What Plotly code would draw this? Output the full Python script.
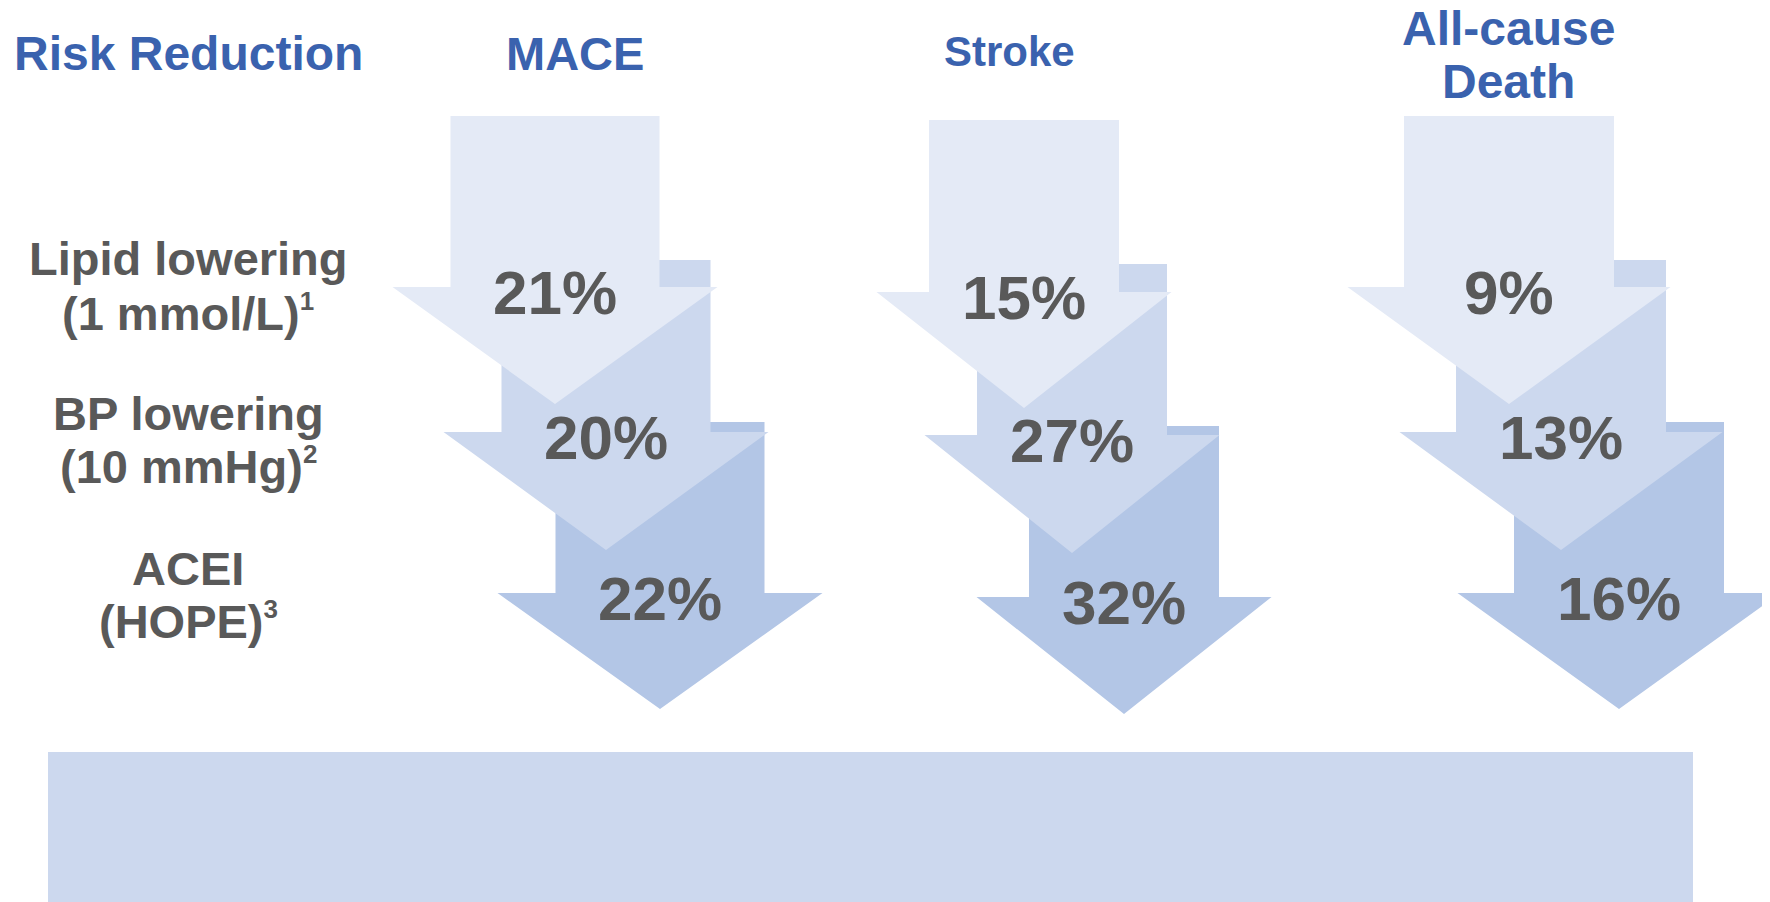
import plotly.graph_objects as go

# --- data -------------------------------------------------------------
OUTCOMES = ["MACE", "Stroke", "All-cause<br>Death"]
INTERVENTIONS = ["Lipid lowering", "BP lowering", "ACEI"]
INTERVENTION_DETAIL = ["(1 mmol/L)", "(10 mmHg)", "(HOPE)"]
REFS = ["1", "2", "3"]
MACE_PCT = [21, 20, 22]
STROKE_PCT = [15, 27, 32]
DEATH_PCT = [9, 13, 16]
VALUES = [MACE_PCT, STROKE_PCT, DEATH_PCT]

# --- layout / geometry (page pixels, y grows downward) ----------------
W, H = 1770, 902
PAD = 8  # body margin of the html page; axes are offset so page px == data units
BLUE = "#3A62AE"
GREY = "#595959"
ARROW_COLORS = ["#E4EAF6", "#CCD8EE", "#B3C6E6"]
FONT = "Liberation Sans, Arial, sans-serif"

COL_X = [555, 1024, 1509]             # centre of first arrow per column
COL_DX = [[0, 51, 105], [0, 48, 100], [0, 52, 110]]
SHAFT_W = [209, 190, 210]
HEAD_W = [325, 295, 323]
TOP_Y = [[116, 260, 422], [120, 264, 426], [116, 260, 422]]
HEAD_Y = [[287, 432, 593], [292, 435, 597], [287, 432, 593]]
TIP_Y = [[404, 550, 709], [408, 553, 714], [404, 550, 709]]
LABEL_DY = 5  # % label sits just below where the arrow head starts

HEADER_X = [575, 1009, 1508]
HEADER_Y = [53, 51, 53]
HEADER_SIZE = [47, 42, 48]
ROW_LABEL_X = 188
ROW_LABEL_Y = [(258, 313), (413, 466), (568, 621)]


def arrow_path(cx, sw, hw, top, head, tip):
    xs = [cx - sw / 2, cx + sw / 2, cx + sw / 2, cx + hw / 2, cx,
          cx - hw / 2, cx - sw / 2, cx - sw / 2]
    ys = [top, top, head, head, tip, head, head, top]
    return xs, ys


fig = go.Figure()

# draw bottom arrows first so the lighter ones sit on top
for c in range(len(OUTCOMES)):
    for r in reversed(range(len(INTERVENTIONS))):
        xs, ys = arrow_path(COL_X[c] + COL_DX[c][r], SHAFT_W[c], HEAD_W[c],
                            TOP_Y[c][r], HEAD_Y[c][r], TIP_Y[c][r])
        fig.add_trace(go.Scatter(
            x=xs, y=ys, mode="lines", fill="toself",
            fillcolor=ARROW_COLORS[r], line=dict(width=0, color=ARROW_COLORS[r]),
            hoverinfo="skip", showlegend=False,
        ))

annotations = []
# percentage labels
for c, vals in enumerate(VALUES):
    for r, v in enumerate(vals):
        annotations.append(dict(
            x=COL_X[c] + COL_DX[c][r], y=HEAD_Y[c][r] + LABEL_DY,
            text=f"<b>{v}%</b>", showarrow=False,
            font=dict(family=FONT, size=62, color=GREY),
            xanchor="center", yanchor="middle",
        ))

# header row
annotations.append(dict(
    x=188, y=53, text="<b>Risk Reduction</b>", showarrow=False,
    font=dict(family=FONT, size=48, color=BLUE), xanchor="center", yanchor="middle",
))
for c, name in enumerate(OUTCOMES):
    lines = name.split("<br>")
    for i, ln in enumerate(lines):
        y = HEADER_Y[c] if len(lines) == 1 else 28 + 53 * i
        annotations.append(dict(
            x=HEADER_X[c], y=y, text=f"<b>{ln}</b>", showarrow=False,
            font=dict(family=FONT, size=HEADER_SIZE[c], color=BLUE),
            xanchor="center", yanchor="middle",
        ))

# row labels
for r, name in enumerate(INTERVENTIONS):
    y1, y2 = ROW_LABEL_Y[r]
    annotations.append(dict(
        x=ROW_LABEL_X, y=y1, text=f"<b>{name}</b>", showarrow=False,
        font=dict(family=FONT, size=47, color=GREY), xanchor="center", yanchor="middle",
    ))
    annotations.append(dict(
        x=ROW_LABEL_X, y=y2,
        text=(f"<b>{INTERVENTION_DETAIL[r]}"
              f"<sup><span style='font-size:26px'>{REFS[r]}</span></sup></b>"),
        showarrow=False,
        font=dict(family=FONT, size=47, color=GREY), xanchor="center", yanchor="middle",
    ))

fig.update_layout(
    width=W, height=H,
    margin=dict(l=0, r=0, t=0, b=0),
    paper_bgcolor="white", plot_bgcolor="white",
    xaxis=dict(range=[PAD, W + PAD], visible=False, fixedrange=True),
    yaxis=dict(range=[H + PAD, PAD], visible=False, fixedrange=True),
    annotations=annotations,
    shapes=[dict(type="rect", xref="x", yref="y", x0=48, x1=1693, y0=752, y1=H + 20,
                 fillcolor="#CCD8EE", line=dict(width=0), layer="below")],
)

fig.write_html("out.html", config={"displayModeBar": False})
